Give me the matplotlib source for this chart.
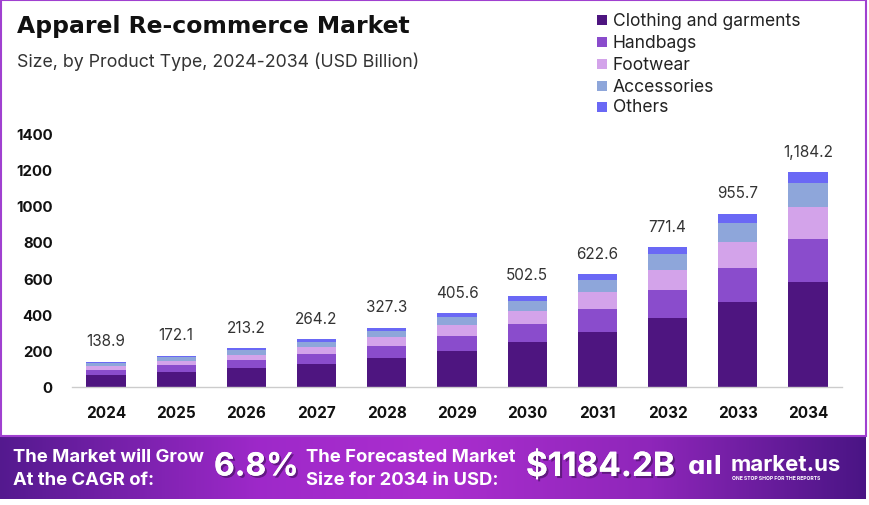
import matplotlib
matplotlib.use("Agg")
import matplotlib.pyplot as plt
import numpy as np
from matplotlib.patches import Rectangle
import matplotlib.patheffects as pe

years = ["2024", "2025", "2026", "2027", "2028", "2029", "2030", "2031", "2032", "2033", "2034"]
totals = [138.9, 172.1, 213.2, 264.2, 327.3, 405.6, 502.5, 622.6, 771.4, 955.7, 1184.2]
total_labels = ["138.9", "172.1", "213.2", "264.2", "327.3", "405.6", "502.5", "622.6", "771.4", "955.7", "1,184.2"]

clothing = [68.1, 84.3, 104.5, 129.5, 160.4, 198.7, 246.2, 305.1, 378.0, 467.0, 577.0]
handbags = [27.8, 34.4, 42.6, 52.8, 65.5, 81.1, 100.5, 124.5, 154.3, 189.0, 237.0]
footwear = [20.6, 25.5, 31.6, 39.1, 48.4, 60.0, 74.4, 92.1, 114.2, 141.0, 176.0]
accessories = [15.3, 18.9, 23.5, 29.1, 36.0, 44.6, 55.3, 68.5, 84.9, 106.0, 133.0]
others = [7.1, 9.0, 11.0, 13.7, 17.0, 21.2, 26.1, 32.4, 40.0, 52.7, 61.2]

series_names = ["Clothing and garments", "Handbags", "Footwear", "Accessories", "Others"]
series_values = [clothing, handbags, footwear, accessories, others]
series_colors = ["#4e1580", "#8a4ccc", "#d3a3ea", "#8ea6da", "#6a68f5"]

yticks = [0, 200, 400, 600, 800, 1000, 1200, 1400]

W, H = 870, 506
fig = plt.figure(figsize=(W / 100, H / 100), dpi=100)
fig.patch.set_facecolor("white")

FONT = "Inter"

def fx(px):
    return px / W

def fy(py):
    return 1 - py / H

# main axes
ax = fig.add_axes([fx(72), fy(388), fx(842) - fx(72), fy(134) - fy(388)])
x = np.arange(len(years))
bottom = np.zeros(len(years))
for name, vals, col in zip(series_names, series_values, series_colors):
    ax.bar(x, vals, width=0.56, bottom=bottom, color=col, label=name, zorder=2)
    bottom += np.array(vals)

for xi, t, lab in zip(x, totals, total_labels):
    ax.annotate(lab, (xi, t), xytext=(0, 15), textcoords="offset points",
                ha="center", va="center", fontsize=11, color="#333333", family=FONT)

ax.set_xlim(-0.485, len(years) - 1 + 0.485)
ax.set_ylim(0, 1400)
ax.set_xticks(x)
ax.set_xticklabels(years, fontsize=11, fontweight="bold", family=FONT, color="#111111")
ax.set_yticks(yticks)
ax.set_yticklabels([str(v) for v in yticks], fontsize=10.8, fontweight="bold", family=FONT, color="#111111")
ax.tick_params(axis="both", length=0)
ax.tick_params(axis="y", pad=14)
ax.tick_params(axis="x", pad=13)
for s in ["top", "right", "left"]:
    ax.spines[s].set_visible(False)
ax.spines["bottom"].set_color("#cccccc")
ax.spines["bottom"].set_linewidth(1)
ax.set_facecolor("none")

# title
fig.text(fx(17), fy(26), "Apparel Re-commerce Market", fontsize=16.9, fontweight="bold",
         family="DejaVu Sans", color="#111111", va="center", ha="left")
fig.text(fx(17), fy(62), "Size, by Product Type, 2024-2034 (USD Billion)", fontsize=12.8,
         family=FONT, color="#333333", va="center", ha="left")

# legend
leg_y = [21, 43, 65, 87, 108]
for name, col, yy in zip(series_names, series_colors, leg_y):
    fig.patches.append(Rectangle((fx(597), fy(yy + 5)), fx(10), 10 / H, transform=fig.transFigure,
                                 facecolor=col, edgecolor="none"))
    fig.text(fx(613), fy(yy), name, fontsize=12.6, family=FONT, color="#222222", va="center", ha="left")

# border around white card
fig.patches.append(Rectangle((fx(1), fy(437)), fx(865), 436 / H, transform=fig.transFigure,
                             facecolor="none", edgecolor="#a040d0", linewidth=1.5, zorder=0))

# footer gradient
axf = fig.add_axes([0, fy(500), fx(866), (500 - 436) / H])
stops = [0.0, 0.3, 0.5, 0.75, 1.0]
cols = np.array([[0.33, 0.10, 0.56], [0.62, 0.16, 0.79], [0.67, 0.18, 0.81],
                 [0.56, 0.15, 0.73], [0.29, 0.08, 0.52]])
xs = np.linspace(0, 1, 600)
grad = np.stack([np.interp(xs, stops, cols[:, i]) for i in range(3)], axis=-1)
grad = np.tile(grad[None, :, :], (20, 1, 1))
axf.imshow(grad, aspect="auto", extent=[0, 1, 0, 1])
axf.set_axis_off()

shadow = [pe.withSimplePatchShadow(offset=(1.5, -1.5), shadow_rgbFace="#2a0a40", alpha=0.5), pe.Normal()]
fig.text(fx(13), fy(458), "The Market will Grow", fontsize=13.3, fontweight="bold", family=FONT,
         color="white", va="center", ha="left")
fig.text(fx(13), fy(481), "At the CAGR of:", fontsize=13.3, fontweight="bold", family=FONT,
         color="white", va="center", ha="left")
fig.text(fx(214), fy(468), "6.8%", fontsize=23, fontweight="bold", family=FONT,
         color="white", va="center", ha="left", path_effects=shadow)
fig.text(fx(306), fy(458), "The Forecasted Market", fontsize=13.3, fontweight="bold", family=FONT,
         color="white", va="center", ha="left")
fig.text(fx(306), fy(481), "Size for 2034 in USD:", fontsize=13.3, fontweight="bold", family=FONT,
         color="white", va="center", ha="left")
fig.text(fx(526), fy(468), "$1184.2B", fontsize=24, fontweight="bold", family=FONT,
         color="white", va="center", ha="left", path_effects=shadow)
fig.text(fx(731), fy(465), "market.us", fontsize=16, fontweight="bold", family=FONT,
         color="white", va="center", ha="left")
fig.text(fx(732), fy(479), "ONE STOP SHOP FOR THE REPORTS", fontsize=3.6, fontweight="bold", family=FONT,
         color="white", va="center", ha="left")
# simple logo mark
fig.text(fx(688), fy(467), "ɑıl", fontsize=18, fontweight="bold", family="DejaVu Sans",
         color="white", va="center", ha="left")

fig.savefig("out.png", dpi=100, facecolor="white")
